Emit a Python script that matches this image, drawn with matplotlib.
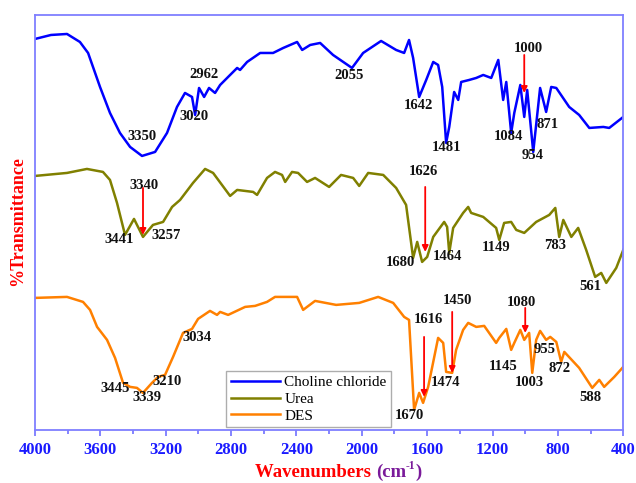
import matplotlib
matplotlib.use("Agg")
import matplotlib.pyplot as plt

plt.rcParams["font.family"] = ["Liberation Serif", "DejaVu Serif"]

# -------------------------
# Spectra (wavenumber, transmittance in a.u., offset stacked)
# -------------------------
cc_wn = [4000, 3902, 3804, 3725, 3675, 3602, 3541, 3480, 3418, 3345, 3265,
         3192, 3131, 3082, 3039, 3020, 2996, 2965, 2935, 2898, 2867, 2806,
         2763, 2745, 2702, 2622, 2543, 2481, 2396, 2365, 2316, 2255, 2176,
         2060, 1992, 1882, 1790, 1741, 1711, 1686, 1649, 1606, 1563, 1533,
         1508, 1484, 1465, 1435, 1410, 1392, 1343, 1300, 1257, 1208, 1165,
         1135, 1116, 1086, 1067, 1030, 1006, 988, 951, 909, 872, 841, 810,
         731, 670, 608, 522, 486, 400]
cc_t = [391, 395, 396, 388, 377, 343, 317, 297, 283, 274, 278,
        297, 323, 337, 333, 315, 342, 333, 342, 337, 345, 355,
        362, 360, 368, 377, 377, 382, 388, 380, 385, 387, 375,
        362, 377, 389, 380, 377, 390, 372, 333, 350, 368, 365,
        343, 287, 303, 338, 330, 348, 350, 352, 355, 352, 370,
        330, 348, 297, 317, 345, 313, 340, 278, 342, 318, 343, 342,
        323, 315, 302, 303, 302, 313]

urea_wn = [4000, 3804, 3682, 3584, 3541, 3498, 3449, 3394, 3339, 3278, 3216,
           3161, 3112, 3033, 2959, 2910, 2806, 2763, 2665, 2641, 2580, 2531,
           2488, 2469, 2427, 2390, 2335, 2286, 2200, 2127, 2053, 2016, 1961,
           1869, 1790, 1729, 1686, 1661, 1631, 1600, 1563, 1496, 1478, 1465,
           1441, 1380, 1349, 1331, 1257, 1178, 1159, 1129, 1086, 1055, 1006,
           933, 853, 816, 792, 767, 718, 676, 627, 572, 535, 504, 443, 400]
urea_t = [254, 257, 261, 258, 250, 227, 195, 211, 193, 205, 208,
          223, 230, 247, 261, 257, 234, 240, 238, 235, 252, 258,
          255, 248, 258, 257, 248, 252, 243, 255, 252, 244, 257,
          255, 242, 225, 172, 188, 168, 173, 193, 208, 203, 177,
          202, 217, 223, 217, 213, 202, 190, 207, 208, 200, 197,
          208, 215, 222, 193, 210, 193, 202, 180, 153, 157, 147, 162, 180]

des_wn = [4000, 3804, 3706, 3663, 3620, 3559, 3510, 3461, 3418, 3376, 3339,
          3284, 3247, 3204, 3155, 3094, 3039, 3002, 2929, 2886, 2867, 2818,
          2714, 2653, 2580, 2531, 2396, 2359, 2335, 2286, 2157, 2016, 1900,
          1808, 1741, 1711, 1680, 1649, 1625, 1594, 1533, 1502, 1484, 1447,
          1423, 1380, 1349, 1300, 1251, 1178, 1159, 1116, 1086, 1067, 1030,
          1006, 976, 957, 933, 909, 872, 847, 810, 780, 761, 670, 590, 547,
          517, 455, 400]
des_t = [132, 133, 128, 120, 103, 90, 72, 47, 43, 42, 37,
         47, 53, 55, 73, 97, 101, 111, 119, 115, 118, 115,
         123, 124, 128, 133, 133, 120, 123, 129, 125, 127, 133,
         127, 113, 110, 20, 37, 27, 43, 92, 87, 58, 57,
         80, 100, 107, 103, 104, 87, 92, 101, 80, 87, 100,
         90, 97, 57, 90, 99, 90, 93, 88, 68, 78, 62, 42, 50,
         43, 53, 63]

# Peak labels: (text, wavenumber, T)
cc_labels = [("3350", 3345, 293), ("2962", 2965, 355), ("3020", 3027, 313),
             ("2055", 2078, 354), ("1642", 1655, 324), ("1481", 1484, 282),
             ("1084", 1104, 293), ("954", 957, 274), ("871", 866, 305),
             ("1000", 982, 381)]
urea_labels = [("3340", 3333, 244), ("3441", 3486, 190), ("3257", 3198, 194),
               ("1626", 1625, 258), ("1680", 1766, 167), ("1464", 1478, 173),
               ("1149", 1178, 182), ("783", 816, 184), ("561", 602, 143)]
des_labels = [("3445", 3510, 41), ("3339", 3314, 32), ("3210", 3192, 48),
              ("3034", 3008, 92), ("1616", 1594, 110), ("1450", 1416, 129),
              ("1670", 1710, 14), ("1474", 1490, 47), ("1080", 1025, 127),
              ("1145", 1135, 63), ("1003", 976, 47), ("955", 884, 80),
              ("872", 792, 61), ("588", 602, 32)]

# Red arrows: (wavenumber, T start, T end)
arrows = [(1006, 375, 337), (3339, 242, 195), (1612, 243, 178),
          (1619, 93, 33), (1447, 118, 57), (1000, 122, 97)]

# -------------------------
# Plot
# -------------------------
fig = plt.figure(figsize=(6.36, 4.83), dpi=100)
ax = fig.add_axes([0.055, 0.110, 0.925, 0.859])

ax.plot(cc_wn, cc_t, color="#0000ff", lw=1.8, label="Choline chloride")
ax.plot(urea_wn, urea_t, color="#808000", lw=1.8, label="Urea")
ax.plot(des_wn, des_t, color="#ff8000", lw=1.8, label="DES")

for text, x, y in cc_labels + urea_labels + des_labels:
    ax.text(x, y, text, ha="center", va="center", fontsize=10.5,
            fontweight="bold", color="#111111")

for x, y0, y1 in arrows:
    ax.annotate("", xy=(x, y1), xytext=(x, y0),
                arrowprops=dict(arrowstyle="-|>", color="red", lw=1.3,
                                mutation_scale=9, shrinkA=0, shrinkB=0))

ax.set_xlim(4000, 400)
ax.set_ylim(0, 415)
ax.set_xticks(range(4000, 399, -400))
ax.set_xticks(range(3800, 399, -400), minor=True)
ax.set_yticks([])
ax.tick_params(axis="x", which="major", length=4, width=1.2, color="#7070ff",
               labelsize=12, labelcolor="#1a1aff", pad=5)
ax.tick_params(axis="x", which="minor", length=3, width=1.2, color="#7070ff")
for lbl in ax.get_xticklabels():
    lbl.set_fontweight("bold")
for sp in ax.spines.values():
    sp.set_color("#7f7fff")
    sp.set_linewidth(1.3)

leg = ax.legend(loc="lower left", bbox_to_anchor=(0.325, 0.006), fontsize=11,
                frameon=True, fancybox=False, handlelength=3.2,
                handletextpad=0.3, borderpad=0.3, labelspacing=0.2,
                borderaxespad=0)
leg.get_frame().set_edgecolor("#999999")
leg.get_frame().set_linewidth(1.0)

# x label built from pieces: red word, purple unit with small superscript
renderer = fig.canvas.get_renderer()
inv = fig.transFigure.inverted()
base_y = 0.012
t1 = fig.text(0.401, base_y, "Wavenumbers ", ha="left", va="baseline",
              fontsize=13.5, fontweight="bold", color="red")
x_end = inv.transform(t1.get_window_extent(renderer).get_points())[1][0]
t2 = fig.text(x_end, base_y, "(cm", ha="left", va="baseline",
              fontsize=13.5, fontweight="bold", color="#7a1a9a")
x_end = inv.transform(t2.get_window_extent(renderer).get_points())[1][0]
t3 = fig.text(x_end, base_y + 0.017, "-1", ha="left", va="baseline",
              fontsize=8.5, fontweight="bold", color="#7a1a9a")
x_end = inv.transform(t3.get_window_extent(renderer).get_points())[1][0]
fig.text(x_end, base_y, ")", ha="left", va="baseline",
         fontsize=13.5, fontweight="bold", color="#7a1a9a")

fig.text(0.028, 0.542, "%Transmittance", rotation=90, ha="center",
         va="center", fontsize=13, fontweight="bold", color="red")

fig.savefig("out.png", dpi=100)
